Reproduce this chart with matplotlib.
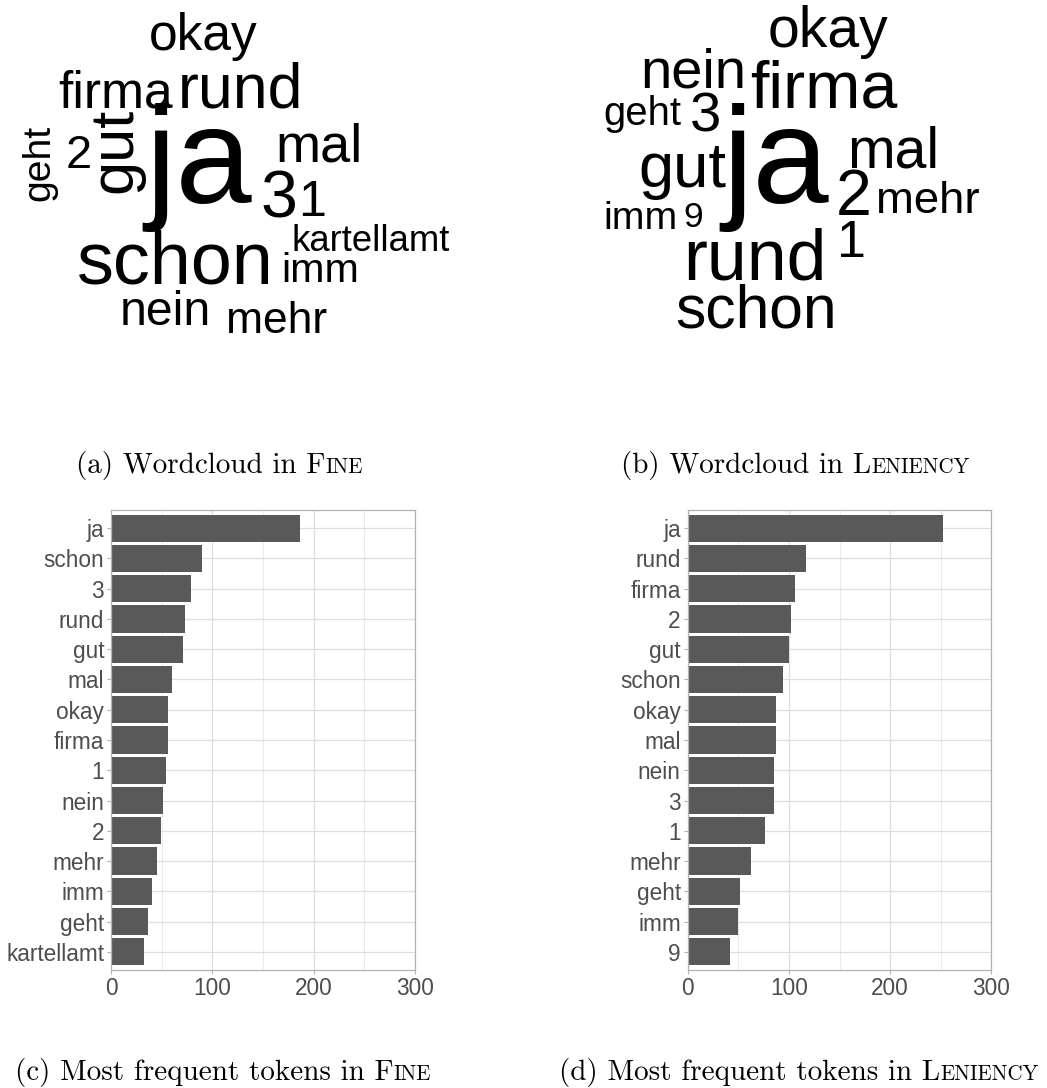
import numpy as np
import matplotlib
matplotlib.use("Agg")
import matplotlib.pyplot as plt

plt.rcParams["font.family"] = ["Liberation Sans", "DejaVu Sans"]

# token counts, FINE
fine_tokens = ["ja", "schon", "3", "rund", "gut", "mal", "okay", "firma",
               "1", "nein", "2", "mehr", "imm", "geht", "kartellamt"]
fine_counts = [187, 90, 79, 73, 71, 60, 56, 56, 54, 51, 49, 45, 40, 37, 33]

# token counts, LENIENCY
len_tokens = ["ja", "rund", "firma", "2", "gut", "schon", "okay", "mal",
              "nein", "3", "1", "mehr", "geht", "imm", "9"]
len_counts = [252, 117, 106, 102, 100, 94, 87, 87, 85, 85, 76, 63, 52, 50, 42]

x_ticks = [0, 100, 200, 300]

captions = [
    [("(a) Wordcloud in F", 1.0), ("INE", 0.72)],
    [("(b) Wordcloud in L", 1.0), ("ENIENCY", 0.72)],
    [("(c) Most frequent tokens in F", 1.0), ("INE", 0.72)],
    [("(d) Most frequent tokens in L", 1.0), ("ENIENCY", 0.72)],
]

# word cloud layout: centre x, baseline y (pixels from top left), rotation
fine_layout = {
    "okay": (203, 50, 0), "firma": (116, 107, 0), "rund": (241, 107, 0),
    "gut": (131, 150, 90), "geht": (49, 163, 90), "2": (79, 168, 0),
    "ja": (199, 203, 0), "mal": (319, 162, 0), "3": (279, 217, 0),
    "1": (312, 216, 0), "kartellamt": (371, 251, 0), "schon": (175, 283, 0),
    "imm": (320, 282, 0), "nein": (165, 325, 0), "mehr": (277, 333, 0),
}
len_layout = {
    "okay": (828, 47, 0), "nein": (693, 88, 0), "firma": (824, 108, 0),
    "geht": (642, 125, 0), "3": (705, 132, 0), "ja": (776, 203, 0),
    "gut": (682, 187, 0), "mal": (893, 167, 0), "2": (854, 215, 0),
    "mehr": (928, 213, 0), "imm": (640, 229, 0), "9": (693, 227, 0),
    "1": (851, 257, 0), "rund": (755, 280, 0), "schon": (756, 328, 0),
}

W, H = 1047, 1088
fig = plt.figure(figsize=(W / 100, H / 100), dpi=100)

# overlay in pixel units for word clouds and captions
over = fig.add_axes([0, 0, 1, 1])
over.set_xlim(0, W)
over.set_ylim(H, 0)
over.axis("off")


def draw_cloud(ax, tokens, counts, layout):
    top = max(counts)
    for tok, cnt in zip(tokens, counts):
        x, y, rot = layout[tok]
        px = 15 + 122 * cnt / top
        ax.text(x, y, tok, fontsize=px * 0.72, rotation=rot,
                rotation_mode="anchor", ha="center", va="baseline",
                color="black")


def draw_bars(ax, tokens, counts):
    n = len(tokens)
    pos = np.arange(n)[::-1] + 1
    ax.barh(pos, counts, height=0.9, color="#595959", zorder=2)
    ax.set_xlim(0, 300)
    ax.set_ylim(0.4, n + 0.6)
    ax.set_yticks(pos, tokens)
    ax.set_xticks(x_ticks)
    ax.set_xticks([50, 150, 250], minor=True)
    ax.grid(which="major", color="#DEDEDE", lw=0.9)
    ax.grid(which="minor", axis="x", color="#E6E6E6", lw=0.6)
    ax.set_axisbelow(True)
    for s in ax.spines.values():
        s.set_color("#B3B3B3")
        s.set_linewidth(0.9)
    ax.tick_params(which="major", length=3, width=0.8, color="#B3B3B3",
                   labelcolor="#4D4D4D", labelsize=16.3, pad=2)
    ax.tick_params(which="minor", length=0)


def caption(ax, cx, y, pieces):
    r = fig.canvas.get_renderer()
    texts = [ax.text(0, y, s, fontsize=21 * k, family="cmr10",
                     va="baseline", ha="left", color="black")
             for s, k in pieces]
    widths = [t.get_window_extent(r).width for t in texts]
    x = cx - sum(widths) / 2
    for t, w in zip(texts, widths):
        t.set_x(x)
        x += w


draw_cloud(over, fine_tokens, fine_counts, fine_layout)
draw_cloud(over, len_tokens, len_counts, len_layout)

bottom = 1 - 970 / H
height = 460 / H
ax_c = fig.add_axes([111 / W, bottom, 304 / W, height])
ax_d = fig.add_axes([687.7 / W, bottom, 303.6 / W, height])
draw_bars(ax_c, fine_tokens, fine_counts)
draw_bars(ax_d, len_tokens, len_counts)

caption(over, 219.5, 473, captions[0])
caption(over, 795, 473, captions[1])
caption(over, 223, 1080, captions[2])
caption(over, 798.5, 1080, captions[3])

fig.savefig("out.png", dpi=100)
